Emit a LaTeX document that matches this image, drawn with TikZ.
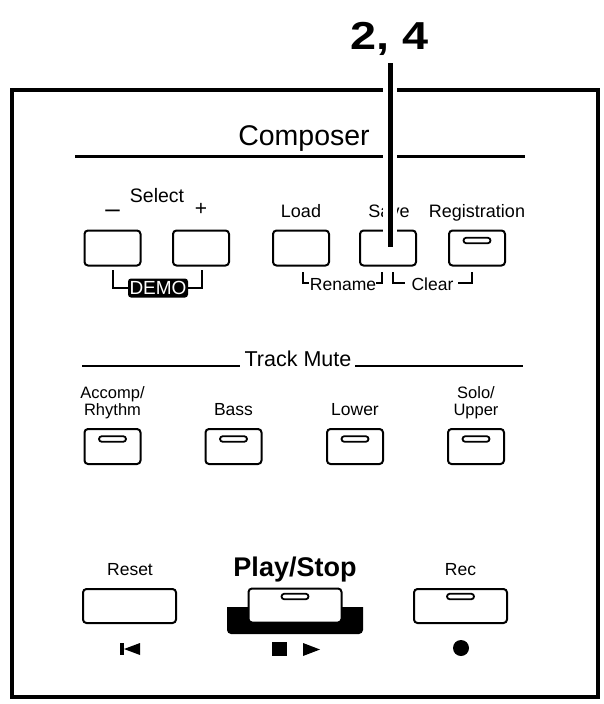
\documentclass[tikz,border=0pt]{standalone}
\usepackage{fontspec}
\usepackage{graphicx}
\usetikzlibrary{shapes.misc}
\setmainfont{Liberation Sans}
\begin{document}
\begin{tikzpicture}[x=1pt,y=-1pt,
  btn/.style={draw, line width=2pt, rounded corners=3.5pt, fill=white, inner sep=0pt, minimum width=56pt, minimum height=35pt},
  wbtn/.style={btn, minimum width=93pt, minimum height=34pt},
  led/.style={draw, line width=1.8pt, rounded rectangle, fill=white, minimum width=27pt, minimum height=5.5pt, inner sep=0pt},
  lbl/.style={font=\fontsize{17.5}{17.5}\selectfont, inner sep=0pt, anchor=base},
  slbl/.style={font=\fontsize{16.5}{16.5}\selectfont, inner sep=0pt, anchor=base},
  brk/.style={line width=1.8pt},
  sep/.style={line width=3pt}
]
\fill[white] (0,0) rectangle (604,704);
\useasboundingbox (0,0) rectangle (604,704);

% frame
\draw[line width=4pt] (12,90) rectangle (598,697);

% Composer
\node[font=\fontsize{28.5}{28.5}\selectfont, inner sep=0pt, anchor=base] (composer) at (304,145) {Composer};
\draw[sep] (75,156) -- (525,156);

% Select row
\node[font=\fontsize{19.5}{19.5}\selectfont, inner sep=0pt, anchor=base] (select) at (157,202) {Select};
\node[font=\fontsize{26}{26}\selectfont, inner sep=0pt] (minus) at (112.5,214) {–};
\node[font=\fontsize{21}{21}\selectfont, inner sep=0pt] (plus) at (201,209.5) {+};
\node[btn] (bminus) at (112.5,248) {};
\node[btn] (bplus) at (201,248) {};
\node[lbl, font=\fontsize{18}{18}\selectfont] (tload) at (301,217) {Load};
\node[lbl, font=\fontsize{18}{18}\selectfont] (tsave) at (389,217) {Save};
\node[lbl, font=\fontsize{18}{18}\selectfont] (treg) at (477,217) {Registration};
\node[btn] (bload) at (301,248) {};
\node[btn] (bsave) at (388,248) {};
\node[btn] (breg) at (477,248) {};
\node[led] (lreg) at (477,240.5) {};

% DEMO
\node[fill=black, rounded corners=3pt, minimum width=60pt, minimum height=19pt, inner sep=0pt, text=white, font=\fontsize{19}{19}\selectfont] (demo) at (158,288) {DEMO};
\draw[brk] (113,270) |- (demo.west);
\draw[brk] (202,270) |- (demo.east);

% Rename / Clear
\node[lbl] (rename) at (343,290) {Rename};
\node[lbl] (clear) at (432.5,290) {Clear};
\draw[brk] (303,272) |- (309,283);
\draw[brk] (376,283) -| (382,272);
\draw[brk] (393,272) |- (405,283);
\draw[brk] (458,283) -| (472,272);

% Track Mute
\node[font=\fontsize{21.5}{21.5}\selectfont, inner sep=0pt, anchor=base] (trackmute) at (298,366) {Track Mute};
\draw[line width=2.2pt] (82,366) -- (240,366);
\draw[line width=2.2pt] (355,366) -- (523,366);

\node[slbl] (tacc) at (112.5,398) {Accomp/};
\node[slbl] (trhy) at (112.5,415.5) {Rhythm};
\node[lbl] (tbass) at (233.5,415.5) {Bass};
\node[lbl] (tlower) at (355,415.5) {Lower};
\node[slbl] (tsolo) at (476,398) {Solo/};
\node[slbl] (tupper) at (476,415.5) {Upper};
\node[btn] (bacc) at (112.5,446.5) {};
\node[btn] (bbass) at (233.5,446.5) {};
\node[btn] (blower) at (355,446.5) {};
\node[btn] (bsolo) at (476,446.5) {};
\node[led] (lacc) at (112.5,439) {};
\node[led] (lbass) at (233.5,439) {};
\node[led] (llower) at (355,439) {};
\node[led] (lsolo) at (476,439) {};

% bottom row
\node[lbl] (treset) at (130,575) {Reset};
\node[lbl] (trec) at (460.5,575) {Rec};
\node[font=\fontsize{27}{27}\selectfont\bfseries, inner sep=0pt, anchor=base] (tplay) at (295,576) {Play/Stop};
\node[wbtn] (breset) at (129.5,606) {};
\fill (227,607) [rounded corners=4pt] -- (227,634) -- (363,634) [sharp corners] -- (363,607) -- cycle;
\node[wbtn] (bplay) at (295,605.5) {};
\node[wbtn] (brec) at (460.5,606) {};
\node[led] (lplay) at (295,596.5) {};
\node[led] (lrec) at (460.5,596.5) {};

% symbols
\fill (120,643) rectangle (123.5,655);
\fill (124,649) -- (140,643) -- (140,655) -- cycle;
\fill (272,642) rectangle (287,656);
\fill (303,643) -- (320,649.5) -- (303,656) -- cycle;
\fill (461,648) circle (8);

% pointer
\node[font=\fontsize{39}{39}\selectfont\bfseries, inner sep=0pt, anchor=base] (num) at (390,49) {\scalebox{1.2}[1]{2, 4}};
\draw[white, line width=14pt] (390,80) -- (390,232);
\draw[line width=5pt] (390,63) -- (390,247);
\end{tikzpicture}
\end{document}
